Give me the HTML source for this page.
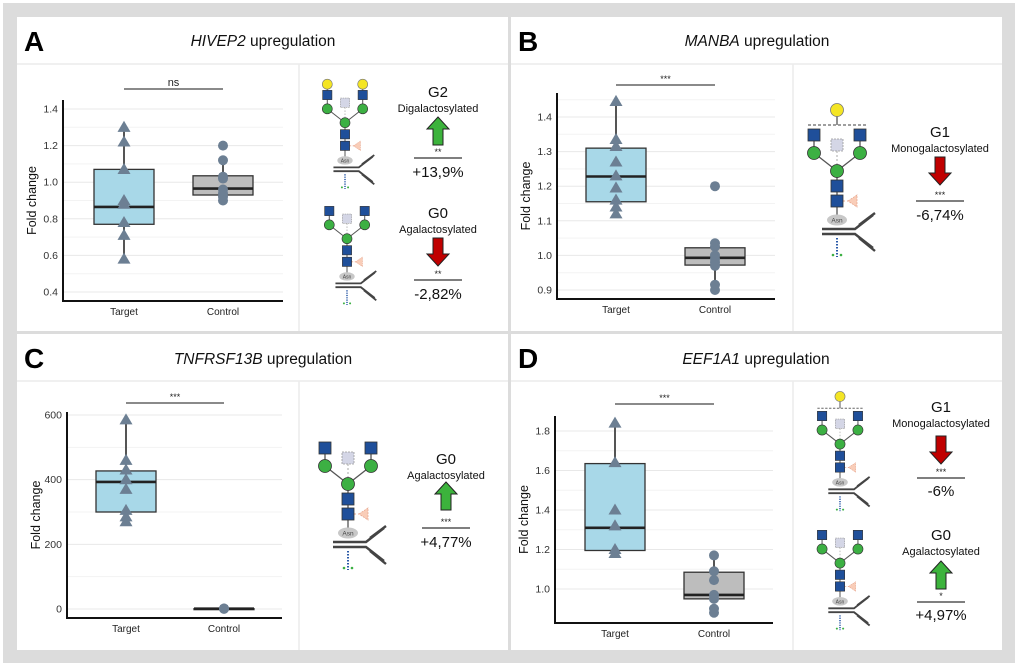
<!DOCTYPE html>
<html><head><meta charset="utf-8">
<style>
html,body{margin:0;padding:0;background:#fff;}
svg{display:block;font-family:"Liberation Sans",Arial,sans-serif;}
</style></head>
<body>
<svg id="fig" width="1020" height="668" viewBox="0 0 1020 668" xmlns="http://www.w3.org/2000/svg">
<rect x="3" y="3" width="1012" height="660" fill="#dcdcdc"/>
<g id="panels"></g>
</svg>
<script>
// ---------- Chart data ----------
const categories = ["Target", "Control"];
// Panel A (HIVEP2)
const aTicks = ["0.4","0.6","0.8","1.0","1.2","1.4"];
const aTarget = [1.30, 1.22, 1.07, 0.90, 0.88, 0.78, 0.71, 0.58];
const aControl = [1.20, 1.12, 1.03, 1.02, 0.96, 0.94, 0.92, 0.90];
const aTargetBox = [0.58, 0.77, 0.865, 1.07, 1.30];
const aControlBox = [0.90, 0.93, 0.965, 1.035, 1.12];
// Panel B (MANBA)
const bTicks = ["0.9","1.0","1.1","1.2","1.3","1.4"];
const bTarget = [1.445, 1.335, 1.315, 1.27, 1.23, 1.195, 1.16, 1.14, 1.12];
const bControl = [1.20, 1.035, 1.025, 1.0, 0.99, 0.98, 0.97, 0.915, 0.90];
const bTargetBox = [1.12, 1.155, 1.228, 1.31, 1.445];
const bControlBox = [0.90, 0.972, 0.993, 1.022, 1.035];
// Panel C (TNFRSF13B)
const cTicks = ["0","200","400","600"];
const cTarget = [585, 460, 430, 400, 370, 305, 285, 270];
const cControl = [1.2, 1.0, 0.9, 1.1, 1.0];
const cTargetBox = [270, 300, 393, 427, 585];
const cControlBox = [0.9, 0.95, 1.0, 1.05, 1.2];
// Panel D (EEF1A1)
const dTicks = ["1.0","1.2","1.4","1.6","1.8"];
const dTarget = [1.84, 1.64, 1.40, 1.32, 1.20, 1.18];
const dControl = [1.17, 1.09, 1.045, 0.97, 0.95, 0.90, 0.88];
const dTargetBox = [1.18, 1.195, 1.31, 1.635, 1.84];
const dControlBox = [0.95, 0.95, 0.97, 1.085, 1.17];

const NS = "http://www.w3.org/2000/svg";
const root = document.getElementById("panels");
function mk(tag, attrs, parent, text) {
  const e = document.createElementNS(NS, tag);
  for (const k in attrs) e.setAttribute(k, attrs[k]);
  if (text !== undefined) e.textContent = text;
  (parent || root).appendChild(e);
  return e;
}

// ---------- Panels ----------
const panelDefs = [
  {id:"a", x:17, y:17, w:491, h:314, letter:"A", gene:"HIVEP2", tx:263, ty:46},
  {id:"b", x:511, y:17, w:491, h:314, letter:"B", gene:"MANBA", tx:757, ty:46},
  {id:"c", x:17, y:334, w:491, h:316, letter:"C", gene:"TNFRSF13B", tx:263, ty:364},
  {id:"d", x:511, y:334, w:491, h:316, letter:"D", gene:"EEF1A1", tx:756, ty:364}
];
panelDefs.forEach(p => {
  const g = mk("g", {});
  
  
  const r = mk("rect", {x:p.x, y:p.y, width:p.w, height:p.h, fill:"#fff"}, g);
  
  
  const hl = mk("line", {x1:p.x, x2:p.x+p.w, y1:p.y+47, y2:p.y+47, stroke:"#ececec", "stroke-width":1.5}, g);
  
  
  const vl = mk("line", {x1:p.x+282, x2:p.x+282, y1:p.y+47, y2:p.y+p.h, stroke:"#ececec", "stroke-width":1.5}, g);
  
  
  const L = mk("text", {x:p.x+7, y:p.y+34, "font-size":28, "font-weight":"bold", fill:"#000"}, g, p.letter);
  
  
  const T = mk("text", {x:p.tx, y:p.ty, "font-size":15.5, "text-anchor":"middle", fill:"#111"}, g);
  
  
  mk("tspan", {"font-style":"italic"}, T, p.gene);
  mk("tspan", {}, T, " upregulation");
});

// ---------- Box plots ----------
function tri(g, x, y) {
  const s = 6.5;
  const e = mk("polygon", {points:`${x},${y-s} ${x-s},${y+s*0.7} ${x+s},${y+s*0.7}`, fill:"#6c7f93"}, g);
  
  
}
function dot(g, x, y) {
  const e = mk("circle", {cx:x, cy:y, r:5, fill:"#6c7f93"}, g);
  
  
}
function boxplot(cfg) {
  const g = mk("g", {});
  
  
  const v0 = parseFloat(cfg.ticks[0]), v1 = parseFloat(cfg.ticks[cfg.ticks.length-1]);
  const yS = v => cfg.yLo + (v - v0) / (v1 - v0) * (cfg.yHi - cfg.yLo);
  const xS = i => cfg.cx[i];
  // gridlines (major + minor)
  const step = (v1 - v0) / (cfg.ticks.length - 1);
  for (let k = 0; k <= (cfg.ticks.length - 1) * 2 + 1; k++) {
    const v = v0 + k * step / 2;
    const y = yS(v);
    if (y < cfg.top + 2) continue;
    const gl = mk("line", {x1:cfg.ax+1, x2:cfg.right, y1:y, y2:y, stroke: k%2 ? "#f3f3f3" : "#e8e8e8", "stroke-width":1}, g);
    
    
  }
  cfg.ticks.forEach(t => {
    const y = yS(parseFloat(t));
    const tl = mk("text", {x:cfg.ax-5, y:y+3.5, "font-size":10.5, "text-anchor":"end", fill:"#333"}, g, t);
    
    
  });
  const yt = mk("text", {x:0, y:0, "font-size":12.5, "text-anchor":"middle", fill:"#111",
    transform:`translate(${cfg.ax-27},${(cfg.top+cfg.bottom)/2}) rotate(-90)`}, g, "Fold change");
  
  
  const boxes = [cfg.tBox, cfg.cBox], pts = [cfg.tPts, cfg.cPts];
  const fills = ["#a8d8e8", "#bdbdbd"];
  [0,1].forEach(i => {
    const b = boxes[i], x = xS(i);
    const wl = mk("line", {x1:x, x2:x, y1:yS(b[0]), y2:yS(b[4]), stroke:"#555", "stroke-width":2}, g);
    
    
    const br = mk("rect", {x:x-30, y:yS(b[3]), width:60, height:Math.max(1, yS(b[1])-yS(b[3])), fill:fills[i], stroke:"#333", "stroke-width":1.3}, g);
    
    
    const md = mk("line", {x1:x-30, x2:x+30, y1:yS(b[2]), y2:yS(b[2]), stroke:"#222", "stroke-width":2.6}, g);
    
    
    pts[i].forEach(v => (i === 0 ? tri : dot)(g, x, yS(v)));
    const xl = mk("text", {x:x, y:cfg.bottom+14, "font-size":10, "text-anchor":"middle", fill:"#222"}, g, categories[i]);
    
    
  });
  const axis = mk("polyline", {points:`${cfg.ax},${cfg.top} ${cfg.ax},${cfg.bottom} ${cfg.right},${cfg.bottom}`, fill:"none", stroke:"#111", "stroke-width":2}, g);
  
  
  const sb = mk("line", {x1:xS(0), x2:xS(1), y1:cfg.sigY, y2:cfg.sigY, stroke:"#444", "stroke-width":1.2}, g);
  
  
  const st = mk("text", {x:(xS(0)+xS(1))/2, y:cfg.sigY-3, "font-size":cfg.sig === "ns" ? 11 : 9, "text-anchor":"middle", fill:"#222"}, g, cfg.sig);
  
  
}
boxplot({id:"a", ticks:aTicks, tPts:aTarget, cPts:aControl, tBox:aTargetBox, cBox:aControlBox,
  ax:63, top:100, bottom:301, right:283, yLo:292, yHi:109, cx:[124,223], sigY:89, sig:"ns"});
boxplot({id:"b", ticks:bTicks, tPts:bTarget, cPts:bControl, tBox:bTargetBox, cBox:bControlBox,
  ax:557, top:93, bottom:299, right:775, yLo:290, yHi:117, cx:[616,715], sigY:85, sig:"***"});
boxplot({id:"c", ticks:cTicks, tPts:cTarget, cPts:cControl, tBox:cTargetBox, cBox:cControlBox,
  ax:67, top:412, bottom:618, right:282, yLo:609, yHi:415, cx:[126,224], sigY:403, sig:"***"});
boxplot({id:"d", ticks:dTicks, tPts:dTarget, cPts:dControl, tBox:dTargetBox, cBox:dControlBox,
  ax:555, top:416, bottom:623, right:773, yLo:589, yHi:431, cx:[615,714], sigY:404, sig:"***"});

// ---------- Glycan illustrations ----------
function glycan(cx, y0, s, gal) {
  const g = mk("g", {transform:`translate(${cx},${y0}) scale(${s})`});
  
  
  const blue = "#1f4f9a", green = "#3cb043";
  mk("line", {x1:-23, y1:18, x2:0, y2:36, stroke:"#555", "stroke-width":1.3}, g);
  mk("line", {x1:23, y1:18, x2:0, y2:36, stroke:"#555", "stroke-width":1.3}, g);
  mk("line", {x1:0, y1:36, x2:0, y2:85, stroke:"#555", "stroke-width":1.3}, g);
  mk("line", {x1:-23, y1:0, x2:-23, y2:18, stroke:"#555", "stroke-width":1.3}, g);
  mk("line", {x1:23, y1:0, x2:23, y2:18, stroke:"#555", "stroke-width":1.3}, g);
  mk("line", {x1:0, y1:16, x2:0, y2:30, stroke:"#aaa", "stroke-width":1, "stroke-dasharray":"2,2"}, g);
  mk("line", {x1:6, y1:66, x2:12, y2:66, stroke:"#e8a890", "stroke-width":1, "stroke-dasharray":"2,2"}, g);
  if (gal === 2) {
    [-23, 23].forEach(dx => {
      mk("line", {x1:dx, y1:-13, x2:dx, y2:0, stroke:"#555", "stroke-width":1.3}, g);
      mk("circle", {cx:dx, cy:-14, r:6.5, fill:"#f4e524", stroke:"#777", "stroke-width":0.8}, g);
    });
  } else if (gal === 1) {
    mk("line", {x1:-29, x2:29, y1:-10, y2:-10, stroke:"#666", "stroke-width":1.3, "stroke-dasharray":"3,2"}, g);
    mk("line", {x1:0, y1:-25, x2:0, y2:-10, stroke:"#555", "stroke-width":1.3}, g);
    mk("circle", {cx:0, cy:-25, r:6.5, fill:"#f4e524", stroke:"#777", "stroke-width":0.8}, g);
  }
  [-23, 23].forEach(dx => {
    mk("rect", {x:dx-6, y:-6, width:12, height:12, fill:blue, stroke:"#333", "stroke-width":0.8}, g);
    mk("circle", {cx:dx, cy:18, r:6.5, fill:green, stroke:"#333", "stroke-width":0.8}, g);
  });
  mk("rect", {x:-6, y:4, width:12, height:12, fill:"#d4d6e6", stroke:"#999", "stroke-width":0.8, "stroke-dasharray":"2,1"}, g);
  mk("circle", {cx:0, cy:36, r:6.5, fill:green, stroke:"#333", "stroke-width":0.8}, g);
  mk("rect", {x:-6, y:45, width:12, height:12, fill:blue, stroke:"#333", "stroke-width":0.8}, g);
  mk("rect", {x:-6, y:60, width:12, height:12, fill:blue, stroke:"#333", "stroke-width":0.8}, g);
  mk("polygon", {points:"11,66 20,60 20,72", fill:"#f9cdb8", stroke:"#e8a890", "stroke-width":0.8, "stroke-dasharray":"2,1"}, g);
  mk("ellipse", {cx:0, cy:85, rx:10, ry:5.5, fill:"#c8c8c8"}, g);
  mk("text", {x:0, y:87.5, "font-size":6.5, "text-anchor":"middle", fill:"#444"}, g, "Asn");
  // antibody
  const ab = {stroke:"#444", "stroke-width":2.4, fill:"none"};
  mk("polyline", Object.assign({points:"-15,94 18,94 36,80"}, ab), g);
  mk("polyline", Object.assign({points:"-15,99 18,99 36,113"}, ab), g);
  mk("line", Object.assign({x1:22, y1:90, x2:38, y2:78}, ab), g);
  mk("line", Object.assign({x1:22, y1:103, x2:38, y2:116}, ab), g);
  mk("line", {x1:0, y1:103, x2:0, y2:122, stroke:"#2a5aa8", "stroke-width":2, "stroke-dasharray":"1.5,1.5"}, g);
  mk("circle", {cx:-4, cy:120, r:1.3, fill:"#3cb043"}, g);
  mk("circle", {cx:4, cy:120, r:1.3, fill:"#3cb043"}, g);
}
glycan(345, 95, 0.77, 2);
glycan(347, 211, 0.77, 0);
glycan(837, 135, 1.0, 1);
glycan(348, 448, 1.0, 0);
glycan(840, 416, 0.78, 1);
glycan(840, 535, 0.78, 0);

// ---------- Annotation blocks ----------
function annot(x, yG, name, sub, up, sig, val, yArrow, yLine, yVal, half) {
  const g = mk("g", {});
  
  
  mk("text", {x:x, y:yG, "font-size":15, "text-anchor":"middle", fill:"#111"}, g, name);
  mk("text", {x:x, y:yG+15, "font-size":11, "text-anchor":"middle", fill:"#111"}, g, sub);
  const h = 28, a = yArrow;
  let pts;
  if (up) pts = `${x},${a} ${x+11},${a+12} ${x+5},${a+12} ${x+5},${a+h} ${x-5},${a+h} ${x-5},${a+12} ${x-11},${a+12}`;
  else pts = `${x-5},${a} ${x+5},${a} ${x+5},${a+h-12} ${x+11},${a+h-12} ${x},${a+h} ${x-11},${a+h-12} ${x-5},${a+h-12}`;
  const ar = mk("polygon", {points:pts, fill: up ? "#3cb33c" : "#c00000", stroke:"#222", "stroke-width":1}, g);
  
  
  mk("line", {x1:x-24, x2:x+24, y1:yLine, y2:yLine, stroke:"#333", "stroke-width":1.2}, g);
  mk("text", {x:x, y:yLine-3, "font-size":9, "text-anchor":"middle", fill:"#222"}, g, sig);
  mk("text", {x:x, y:yVal, "font-size":15, "text-anchor":"middle", fill:"#111"}, g, val);
}
annot(438, 97, "G2", "Digalactosylated", true, "**", "+13,9%", 117, 158, 177);
annot(438, 218, "G0", "Agalactosylated", false, "**", "-2,82%", 238, 280, 299);
annot(940, 137, "G1", "Monogalactosylated", false, "***", "-6,74%", 157, 201, 220);
annot(446, 464, "G0", "Agalactosylated", true, "***", "+4,77%", 482, 528, 547);
annot(941, 412, "G1", "Monogalactosylated", false, "***", "-6%", 436, 478, 496);
annot(941, 540, "G0", "Agalactosylated", true, "*", "+4,97%", 561, 602, 620);
</script>
</body></html>
